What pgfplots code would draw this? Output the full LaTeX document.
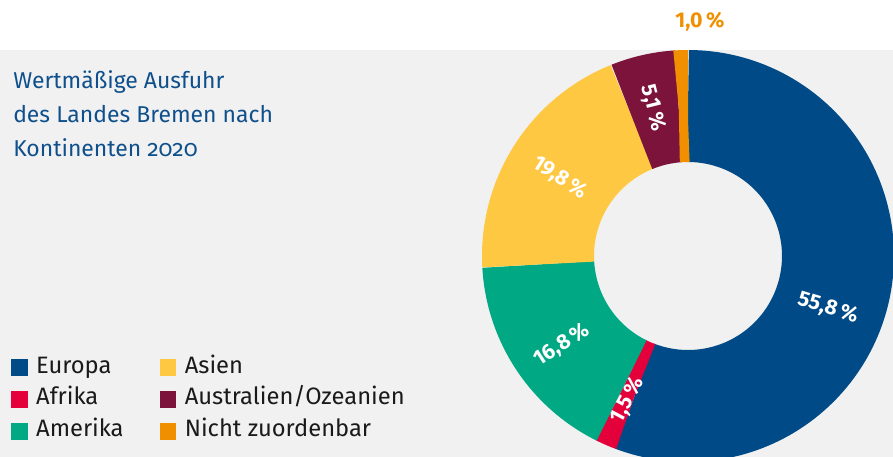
\documentclass[border=0pt]{standalone}
\usepackage{fontspec}
\setmainfont{Fira Sans}
\usepackage{pgfplots}
\usepackage{pgfplotstable}
\pgfplotsset{compat=1.18}

\definecolor{cEuropa}{RGB}{0,75,135}
\definecolor{cAfrika}{RGB}{228,0,58}
\definecolor{cAmerika}{RGB}{0,168,132}
\definecolor{cAsien}{RGB}{255,200,66}
\definecolor{cAustralien}{RGB}{124,19,58}
\definecolor{cNicht}{RGB}{240,143,0}
\definecolor{cTitle}{RGB}{15,80,140}
\definecolor{cBg}{RGB}{241,241,241}
\definecolor{cText}{RGB}{26,26,26}

\pgfplotstableread{
name value
Europa 55.8
Afrika 1.5
Amerika 16.8
Asien 19.8
Australien 5.1
Nicht 1.0
}\datatable

% cumulative angles (clockwise from 12 o'clock)
\pgfplotstablegetelem{0}{value}\of\datatable\let\vA\pgfplotsretval
\pgfplotstablegetelem{1}{value}\of\datatable\let\vB\pgfplotsretval
\pgfplotstablegetelem{2}{value}\of\datatable\let\vC\pgfplotsretval
\pgfplotstablegetelem{3}{value}\of\datatable\let\vD\pgfplotsretval
\pgfplotstablegetelem{4}{value}\of\datatable\let\vE\pgfplotsretval
\pgfplotstablegetelem{5}{value}\of\datatable\let\vF\pgfplotsretval
\pgfmathsetmacro\aA{90}
\pgfmathsetmacro\aB{\aA-3.6*\vA}
\pgfmathsetmacro\aC{\aB-3.6*\vB}
\pgfmathsetmacro\aD{\aC-3.6*\vC}
\pgfmathsetmacro\aE{\aD-3.6*\vD}
\pgfmathsetmacro\aF{\aE-3.6*\vE}
\pgfmathsetmacro\aG{\aF-3.6*\vF}

\newcommand\cx{688}
\newcommand\cy{201}
\newcommand\rmid{150}

\begin{document}
\begin{tikzpicture}
\begin{axis}[
  x=0.75pt, y=0.75pt,
  xmin=0, xmax=893, ymin=0, ymax=457,
  scale only axis, hide axis, clip=true,
  samples=120,
  legend columns=3, transpose legend,
  legend image code/.code={\path[#1, line width=0pt, draw=none, fill] (0pt,-6.2pt) rectangle (12.4pt,6.2pt);},
  legend style={at={(axis cs:11,100)}, anchor=north west, draw=none, fill=none,
    inner sep=0pt, outer sep=0pt,
    font=\fontsize{17.8pt}{20pt}\selectfont\color{cText},
    nodes={inner sep=0pt, text height=12pt, text depth=4pt},
    row sep=8pt,
    /tikz/every odd column/.append style={column sep=6.5pt},
    /tikz/every even column/.append style={column sep=27pt}},
  legend cell align=left,
]
\fill[cBg] (axis cs:0,0) rectangle (axis cs:893,407);

\addplot[color=cEuropa, line width=84pt, line join=round, domain=\aB:\aA, variable=\t] ({\cx+\rmid*cos(t)},{\cy+\rmid*sin(t)});
\addlegendentry{Europa}
\addplot[color=cAfrika, line width=84pt, line join=round, domain=\aC:\aB, variable=\t] ({\cx+\rmid*cos(t)},{\cy+\rmid*sin(t)});
\addlegendentry{Afrika}
\addplot[color=cAmerika, line width=84pt, line join=round, domain=\aD:\aC, variable=\t] ({\cx+\rmid*cos(t)},{\cy+\rmid*sin(t)});
\addlegendentry{Amerika}
\addplot[color=cAsien, line width=84pt, line join=round, domain=\aE:\aD, variable=\t] ({\cx+\rmid*cos(t)},{\cy+\rmid*sin(t)});
\addlegendentry{Asien}
\addplot[color=cAustralien, line width=84pt, line join=round, domain=\aF:\aE, variable=\t] ({\cx+\rmid*cos(t)},{\cy+\rmid*sin(t)});
\addlegendentry{Australien/Ozeanien}
\addplot[color=cNicht, line width=84pt, line join=round, domain=\aG:\aF, variable=\t] ({\cx+\rmid*cos(t)},{\cy+\rmid*sin(t)});
\addlegendentry{Nicht zuordenbar}

\node[anchor=base west, align=left, text=cTitle, font=\fontsize{17.2pt}{25.5pt}\selectfont\addfontfeatures{Numbers=OldStyle}, inner sep=0pt]
  at (axis cs:13,300) {Wertmäßige Ausfuhr\\des Landes Bremen nach\\Kontinenten 2020};

\begin{scope}[every node/.style={font=\fontsize{16pt}{18pt}\selectfont\bfseries, text=white, inner sep=0pt}]
\node[rotate=-17] at (axis cs:828,149) {55,8\,\%};
\node[rotate=62] at (axis cs:628,57) {1,5\,\%};
\node[rotate=33] at (axis cs:562,112) {16,8\,\%};
\node[rotate=-33] at (axis cs:560,279) {19,8\,\%};
\node[rotate=-76] at (axis cs:653,349) {5,1\,\%};
\node[text=cNicht] at (axis cs:700,435) {1,0\,\%};
\end{scope}
\end{axis}
\pgfresetboundingbox
\useasboundingbox (current axis.south west) rectangle (current axis.north east);
\end{tikzpicture}
\end{document}
